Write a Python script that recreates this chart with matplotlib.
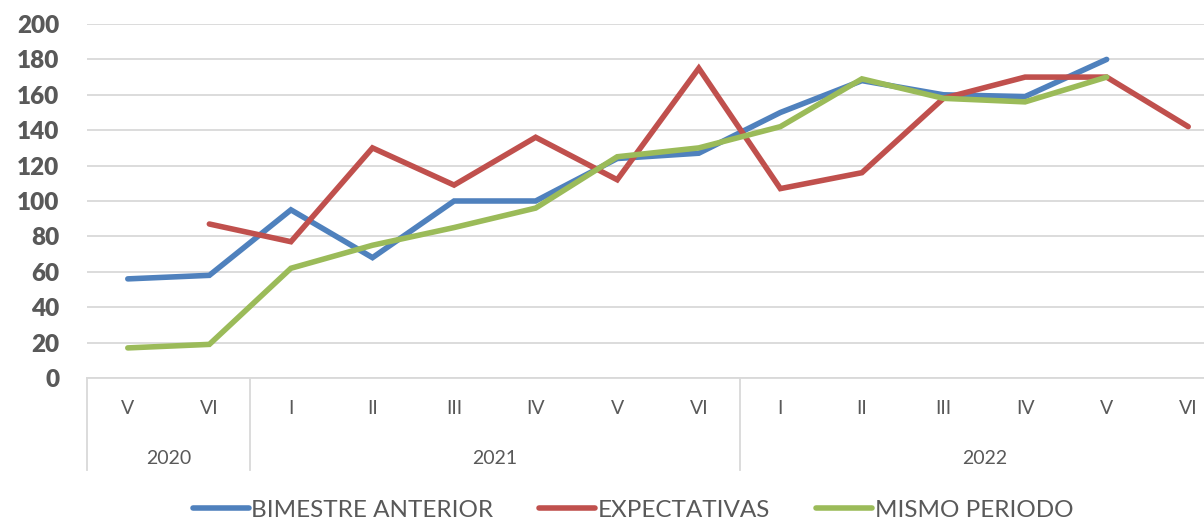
import matplotlib
matplotlib.use("Agg")
import matplotlib.pyplot as plt
import numpy as np

plt.rcParams['font.family'] = ['Lato', 'DejaVu Sans']

bimesters = ["V", "VI", "I", "II", "III", "IV", "V", "VI", "I", "II", "III", "IV", "V", "VI"]
years = ["2020", "2021", "2022"]
year_counts = [2, 6, 6]

bimestre_anterior = [56, 58, 95, 68, 100, 100, 124, 127, 150, 168, 160, 159, 180, np.nan]
expectativas = [np.nan, 87, 77, 130, 109, 136, 112, 175, 107, 116, 158, 170, 170, 142]
mismo_periodo = [17, 19, 62, 75, 85, 96, 125, 130, 142, 169, 158, 156, 170, np.nan]

series = [
    ("BIMESTRE ANTERIOR", bimestre_anterior, "#4f81bd"),
    ("EXPECTATIVAS", expectativas, "#c0504d"),
    ("MISMO PERIODO", mismo_periodo, "#9bbb59"),
]

W, H = 1204, 521
fig = plt.figure(figsize=(W / 100, H / 100), dpi=100)
ax_left, ax_right = 87, 1229
ax = fig.add_axes([ax_left / W, 1 - 378 / H, (ax_right - ax_left) / W, (378 - 24) / H])

x = np.arange(len(bimesters))
for name, vals, col in series:
    ax.plot(x, vals, color=col, lw=4.0, label=name, solid_capstyle='round', solid_joinstyle='miter')

ax.set_xlim(-0.5, len(bimesters) - 0.5)
ax.set_ylim(0, 200)
ax.set_yticks(np.arange(0, 201, 20))
ax.yaxis.grid(True, color="#d9d9d9", lw=1.3)
ax.set_axisbelow(True)
for s in ["top", "right", "left"]:
    ax.spines[s].set_visible(False)
ax.spines["bottom"].set_color("#d9d9d9")
ax.spines["bottom"].set_linewidth(1.3)
ax.tick_params(axis="y", length=0, pad=20, labelsize=17.5, labelcolor="#595959")
for lab in ax.get_yticklabels():
    lab.set_fontweight("heavy")

ax.set_xticks(x)
ax.set_xticklabels(bimesters)
ax.tick_params(axis="x", length=0, pad=16, labelsize=14, labelcolor="#595959")

# group separators and year labels
trans = ax.get_xaxis_transform()
ybot = -(470 - 378) / (378 - 24)
bounds = np.concatenate([[0], np.cumsum(year_counts)]) - 0.5
for b in bounds[:-1]:
    ax.plot([b, b], [0, ybot], color="#d9d9d9", lw=1.3, transform=trans, clip_on=False)
yyear = -(458 - 378) / (378 - 24)
for i, yr in enumerate(years):
    cx = (bounds[i] + bounds[i + 1]) / 2
    ax.text(cx, yyear, yr, transform=trans, ha="center", va="center", fontsize=14, color="#595959")

leg = fig.legend(loc="center", bbox_to_anchor=(633 / W, 1 - 510 / H), ncol=3, frameon=False,
                 fontsize=17.5, handlelength=2.3, columnspacing=1.9, handletextpad=0.1)
for t in leg.get_texts():
    t.set_color("#595959")

fig.savefig("out.png", dpi=100)
